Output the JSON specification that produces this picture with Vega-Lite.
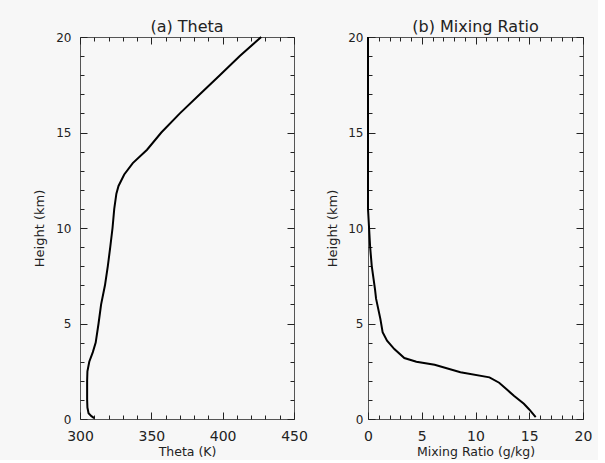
{
  "$schema": "https://vega.github.io/schema/vega-lite/v6.json",
  "background": "#f7f7f7",
  "padding": {"left": 33, "top": 18, "right": 5, "bottom": 2},
  "spacing": 18,
  "config": {
    "view": {"stroke": "#555555", "strokeWidth": 1},
    "font": "DejaVu Sans",
    "axis": {"grid": false, "domain": false, "labelFlush": false, "labelColor": "#222222", "titleColor": "#222222", "labelFont": "DejaVu Sans", "titleFont": "DejaVu Sans", "titleFontWeight": "normal", "tickColor": "#222222", "tickWidth": 1},
    "title": {"font": "DejaVu Sans", "fontSize": 16, "fontWeight": "normal", "color": "#222222", "offset": -4}
  },
  "datasets": {
    "theta": [
      {"h": 0.05, "theta": 310},
      {"h": 0.15, "theta": 308},
      {"h": 0.3, "theta": 306},
      {"h": 0.6, "theta": 305.2},
      {"h": 1.0, "theta": 305},
      {"h": 2.0, "theta": 305},
      {"h": 2.5, "theta": 305.2},
      {"h": 3.0, "theta": 306.5},
      {"h": 3.5, "theta": 309},
      {"h": 4.0, "theta": 311},
      {"h": 5.0, "theta": 313},
      {"h": 6.0, "theta": 314.8},
      {"h": 7.0, "theta": 317.5},
      {"h": 8.0, "theta": 319.5},
      {"h": 9.0, "theta": 321.2},
      {"h": 10.0, "theta": 322.8},
      {"h": 11.0, "theta": 324},
      {"h": 11.8, "theta": 325.5},
      {"h": 12.2, "theta": 327},
      {"h": 12.8, "theta": 331},
      {"h": 13.4, "theta": 337},
      {"h": 14.1, "theta": 347},
      {"h": 15.0, "theta": 357},
      {"h": 16.0, "theta": 370},
      {"h": 17.0, "theta": 384},
      {"h": 18.0, "theta": 398},
      {"h": 19.0, "theta": 412},
      {"h": 20.0, "theta": 427}
    ],
    "mr": [
      {"h": 0.1, "q": 15.6},
      {"h": 0.5, "q": 15.0},
      {"h": 0.8, "q": 14.5},
      {"h": 1.2, "q": 13.6},
      {"h": 1.5, "q": 13.0},
      {"h": 1.9, "q": 12.2},
      {"h": 2.18, "q": 11.3},
      {"h": 2.45, "q": 8.6},
      {"h": 2.84, "q": 6.2},
      {"h": 3.0, "q": 4.5},
      {"h": 3.19, "q": 3.38},
      {"h": 3.66, "q": 2.45},
      {"h": 4.1, "q": 1.77},
      {"h": 4.54, "q": 1.36},
      {"h": 5.24, "q": 1.15},
      {"h": 6.3, "q": 0.75},
      {"h": 6.8, "q": 0.65},
      {"h": 8.0, "q": 0.35},
      {"h": 9.0, "q": 0.2},
      {"h": 10.0, "q": 0.1},
      {"h": 11.0, "q": 0.0},
      {"h": 20.0, "q": 0.0}
    ]
  },
  "hconcat": [
    {
      "width": 214,
      "height": 382,
      "title": "(a) Theta",
      "data": {"name": "theta"},
      "layer": [
        {
          "mark": {"type": "line", "color": "black", "strokeWidth": 2},
          "encoding": {
            "x": {"field": "theta", "type": "quantitative", "scale": {"domain": [300, 450], "nice": false, "zero": false},
                  "axis": {"orient": "bottom", "title": "Theta (K)", "values": [300, 350, 400, 450], "ticks": false, "labelFontSize": 14, "labelPadding": 10, "titleFontSize": 12.5, "titlePadding": 2}},
            "y": {"field": "h", "type": "quantitative", "scale": {"domain": [0, 20], "nice": false},
                  "axis": {"orient": "left", "title": "Height (km)", "values": [0, 5, 10, 15, 20], "ticks": false, "labelFontSize": 12, "labelPadding": 9, "titleFontSize": 13, "titlePadding": 9}},
            "order": {"field": "h", "type": "quantitative"}
          }
        },
        {
          "mark": {"type": "point", "opacity": 0},
          "encoding": {
            "x": {"field": "theta", "type": "quantitative", "scale": {"domain": [300, 450], "nice": false, "zero": false}, "axis": {"orient": "bottom", "title": null, "labels": false, "values": [300, 350, 400, 450], "tickSize": -7}},
            "y": {"field": "h", "type": "quantitative", "scale": {"domain": [0, 20], "nice": false}, "axis": {"orient": "left", "title": null, "labels": false, "values": [0, 5, 10, 15, 20], "tickSize": -7}}
          }
        },
        {
          "mark": {"type": "point", "opacity": 0},
          "encoding": {
            "x": {"field": "theta", "type": "quantitative", "scale": {"domain": [300, 450], "nice": false, "zero": false}, "axis": {"orient": "bottom", "title": null, "labels": false, "values": [310, 320, 330, 340, 360, 370, 380, 390, 410, 420, 430, 440], "tickSize": -4}},
            "y": {"field": "h", "type": "quantitative", "scale": {"domain": [0, 20], "nice": false}, "axis": {"orient": "left", "title": null, "labels": false, "values": [1, 2, 3, 4, 6, 7, 8, 9, 11, 12, 13, 14, 16, 17, 18, 19], "tickSize": -4}}
          }
        },
        {
          "mark": {"type": "point", "opacity": 0},
          "encoding": {
            "x": {"field": "theta", "type": "quantitative", "scale": {"domain": [300, 450], "nice": false, "zero": false}, "axis": {"orient": "top", "title": null, "labels": false, "values": [300, 350, 400, 450], "tickSize": -7}},
            "y": {"field": "h", "type": "quantitative", "scale": {"domain": [0, 20], "nice": false}, "axis": {"orient": "right", "title": null, "labels": false, "values": [0, 5, 10, 15, 20], "tickSize": -7}}
          }
        },
        {
          "mark": {"type": "point", "opacity": 0},
          "encoding": {
            "x": {"field": "theta", "type": "quantitative", "scale": {"domain": [300, 450], "nice": false, "zero": false}, "axis": {"orient": "top", "title": null, "labels": false, "values": [310, 320, 330, 340, 360, 370, 380, 390, 410, 420, 430, 440], "tickSize": -4}},
            "y": {"field": "h", "type": "quantitative", "scale": {"domain": [0, 20], "nice": false}, "axis": {"orient": "right", "title": null, "labels": false, "values": [1, 2, 3, 4, 6, 7, 8, 9, 11, 12, 13, 14, 16, 17, 18, 19], "tickSize": -4}}
          }
        }
      ]
    },
    {
      "width": 215,
      "height": 382,
      "title": "(b) Mixing Ratio",
      "data": {"name": "mr"},
      "layer": [
        {
          "mark": {"type": "line", "color": "black", "strokeWidth": 2},
          "encoding": {
            "x": {"field": "q", "type": "quantitative", "scale": {"domain": [0, 20], "nice": false},
                  "axis": {"orient": "bottom", "title": "Mixing Ratio (g/kg)", "values": [0, 5, 10, 15, 20], "ticks": false, "labelFontSize": 14, "labelPadding": 10, "titleFontSize": 12.5, "titlePadding": 2}},
            "y": {"field": "h", "type": "quantitative", "scale": {"domain": [0, 20], "nice": false},
                  "axis": {"orient": "left", "title": "Height (km)", "values": [0, 5, 10, 15, 20], "ticks": false, "labelFontSize": 12, "labelPadding": 5, "titleFontSize": 13, "titlePadding": 8}},
            "order": {"field": "h", "type": "quantitative"}
          }
        },
        {
          "mark": {"type": "point", "opacity": 0},
          "encoding": {
            "x": {"field": "q", "type": "quantitative", "scale": {"domain": [0, 20], "nice": false}, "axis": {"orient": "bottom", "title": null, "labels": false, "values": [0, 5, 10, 15, 20], "tickSize": -7}},
            "y": {"field": "h", "type": "quantitative", "scale": {"domain": [0, 20], "nice": false}, "axis": {"orient": "left", "title": null, "labels": false, "values": [0, 5, 10, 15, 20], "tickSize": -7}}
          }
        },
        {
          "mark": {"type": "point", "opacity": 0},
          "encoding": {
            "x": {"field": "q", "type": "quantitative", "scale": {"domain": [0, 20], "nice": false}, "axis": {"orient": "bottom", "title": null, "labels": false, "values": [1, 2, 3, 4, 6, 7, 8, 9, 11, 12, 13, 14, 16, 17, 18, 19], "tickSize": -4}},
            "y": {"field": "h", "type": "quantitative", "scale": {"domain": [0, 20], "nice": false}, "axis": {"orient": "left", "title": null, "labels": false, "values": [1, 2, 3, 4, 6, 7, 8, 9, 11, 12, 13, 14, 16, 17, 18, 19], "tickSize": -4}}
          }
        },
        {
          "mark": {"type": "point", "opacity": 0},
          "encoding": {
            "x": {"field": "q", "type": "quantitative", "scale": {"domain": [0, 20], "nice": false}, "axis": {"orient": "top", "title": null, "labels": false, "values": [0, 5, 10, 15, 20], "tickSize": -7}},
            "y": {"field": "h", "type": "quantitative", "scale": {"domain": [0, 20], "nice": false}, "axis": {"orient": "right", "title": null, "labels": false, "values": [0, 5, 10, 15, 20], "tickSize": -7}}
          }
        },
        {
          "mark": {"type": "point", "opacity": 0},
          "encoding": {
            "x": {"field": "q", "type": "quantitative", "scale": {"domain": [0, 20], "nice": false}, "axis": {"orient": "top", "title": null, "labels": false, "values": [1, 2, 3, 4, 6, 7, 8, 9, 11, 12, 13, 14, 16, 17, 18, 19], "tickSize": -4}},
            "y": {"field": "h", "type": "quantitative", "scale": {"domain": [0, 20], "nice": false}, "axis": {"orient": "right", "title": null, "labels": false, "values": [1, 2, 3, 4, 6, 7, 8, 9, 11, 12, 13, 14, 16, 17, 18, 19], "tickSize": -4}}
          }
        }
      ]
    }
  ]
}
